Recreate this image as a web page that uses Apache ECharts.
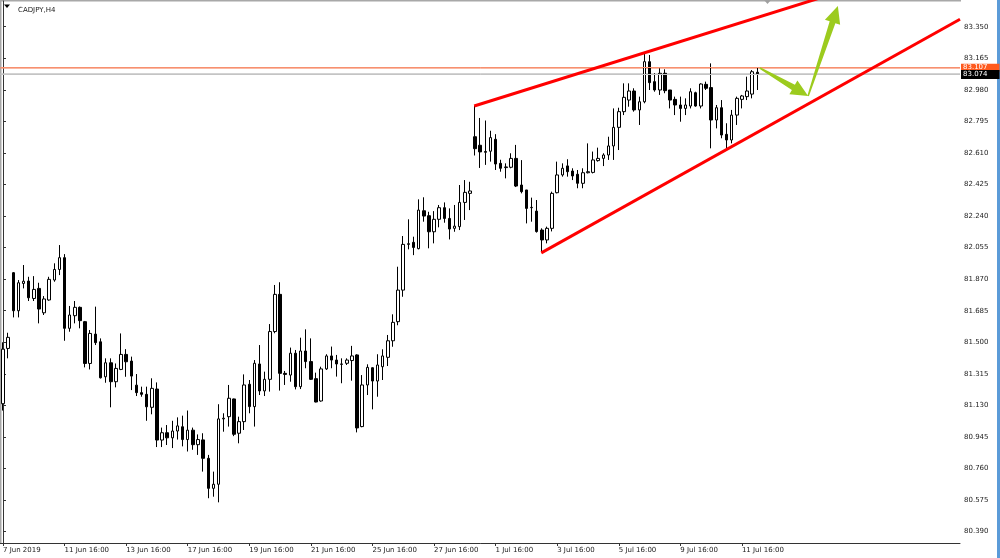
<!DOCTYPE html>
<html><head><meta charset="utf-8">
<script src="https://cdn.jsdelivr.net/npm/echarts@6/dist/echarts.min.js"></script>
<style>html,body{margin:0;padding:0;background:#fff}#c{width:1000px;height:558px}</style>
</head><body><div id="c"></div>
<script>
const symbolName = 'CADJPY,H4';
const tickLabels = ['7 Jun 2019','11 Jun 16:00','13 Jun 16:00','17 Jun 16:00','19 Jun 16:00','21 Jun 16:00','25 Jun 16:00','27 Jun 16:00','1 Jul 16:00','3 Jul 16:00','5 Jul 16:00','9 Jul 16:00','11 Jul 16:00'];
const barsPerTick = 12;
const slotCount = 187;
const yTicks = [80.390,80.575,80.760,80.945,81.130,81.315,81.500,81.685,81.870,82.055,82.240,82.425,82.610,82.795,82.980,83.165,83.350];
const opens = [
81.140,81.464,81.908,81.685,81.845,81.859,81.757,81.816,81.673,81.748,
81.865,81.927,81.996,81.582,81.656,81.705,81.621,81.376,81.548,81.503,
81.298,81.380,81.269,81.341,81.429,81.390,81.249,81.205,81.195,81.119,
81.226,80.927,80.970,80.940,80.980,81.005,80.930,80.985,80.900,80.928,
80.820,80.644,80.668,81.051,81.064,81.168,80.967,81.035,81.254,81.123,
81.373,81.215,81.283,81.563,81.781,81.318,81.308,81.436,81.240,81.449,
81.387,81.287,81.156,81.344,81.420,81.396,81.373,81.377,81.393,81.426,
81.006,81.250,81.351,81.273,81.357,81.412,81.509,81.621,81.806,82.074,
82.086,82.049,82.271,82.242,82.148,82.221,82.289,82.226,82.168,82.178,
82.320,82.373,82.705,82.655,82.618,82.620,82.690,82.549,82.524,82.526,
82.578,82.422,82.393,82.289,82.269,82.158,82.100,82.168,82.377,82.481,
82.534,82.504,82.485,82.432,82.494,82.496,82.565,82.578,82.598,82.651,
82.760,82.852,82.920,82.973,82.862,82.910,83.145,83.028,82.979,83.077,
82.979,82.924,82.891,82.871,82.885,82.963,82.885,83.012,82.993,82.803,
82.875,82.719,82.686,82.832,82.924,82.940,82.955,83.083];
const highs = [
81.500,81.556,81.912,81.865,81.953,81.884,81.888,81.849,81.771,81.884,
81.963,82.070,82.017,81.713,81.742,81.710,81.625,81.572,81.709,81.523,
81.406,81.406,81.376,81.552,81.460,81.416,81.314,81.240,81.240,81.289,
81.265,81.000,81.015,81.040,81.060,81.070,81.100,81.000,80.960,80.967,
80.840,80.742,81.137,81.084,81.250,81.170,81.064,81.312,81.279,81.396,
81.484,81.328,81.607,81.836,81.852,81.332,81.469,81.455,81.527,81.576,
81.523,81.322,81.357,81.430,81.475,81.426,81.406,81.406,81.479,81.430,
81.308,81.371,81.353,81.430,81.459,81.543,81.664,81.943,82.123,82.221,
82.119,82.338,82.350,82.265,82.269,82.305,82.320,82.285,82.305,82.422,
82.451,82.441,82.885,82.815,82.800,82.740,82.720,82.570,82.549,82.608,
82.657,82.568,82.393,82.348,82.334,82.168,82.178,82.383,82.559,82.549,
82.573,82.520,82.510,82.520,82.666,82.618,82.641,82.608,82.705,82.871,
82.875,83.018,83.018,82.989,82.940,83.194,83.184,83.077,83.106,83.100,
82.979,82.940,82.940,82.930,82.989,82.969,83.018,83.028,83.135,82.891,
82.920,82.784,82.862,82.940,82.950,83.057,83.096,83.110];
const lows = [
81.100,81.406,81.646,81.646,81.816,81.742,81.742,81.611,81.660,81.744,
81.855,81.894,81.509,81.562,81.611,81.582,81.353,81.341,81.484,81.288,
81.263,81.119,81.236,81.337,81.298,81.220,81.185,81.181,81.040,81.078,
80.886,80.886,80.898,80.880,80.930,80.890,80.860,80.870,80.840,80.742,
80.586,80.595,80.562,80.976,81.006,80.950,80.908,80.986,81.084,81.006,
81.191,81.185,81.211,81.553,81.217,81.250,81.269,81.224,81.226,81.348,
81.279,81.148,81.152,81.338,81.348,81.299,81.260,81.367,81.275,80.972,
81.002,81.191,81.107,81.181,81.279,81.361,81.474,81.600,81.767,82.045,
82.011,82.045,82.207,82.051,82.080,82.174,82.201,82.103,82.148,82.158,
82.217,82.275,82.595,82.522,82.540,82.559,82.510,82.500,82.461,82.520,
82.410,82.373,82.197,82.207,82.143,82.030,82.080,82.150,82.373,82.471,
82.471,82.451,82.403,82.403,82.490,82.490,82.559,82.533,82.569,82.569,
82.627,82.832,82.881,82.852,82.774,82.901,82.979,82.969,82.950,82.960,
82.871,82.832,82.793,82.832,82.871,82.881,82.871,82.979,82.637,82.754,
82.696,82.637,82.666,82.774,82.871,82.920,82.930,82.979];
const closes = [
81.460,81.529,81.685,81.849,81.858,81.761,81.810,81.695,81.754,81.869,
81.927,81.996,81.582,81.660,81.705,81.627,81.376,81.552,81.498,81.292,
81.380,81.269,81.347,81.429,81.386,81.302,81.205,81.195,81.122,81.230,
80.927,80.970,80.940,80.980,81.010,80.930,80.985,80.900,80.930,80.820,
80.644,80.668,81.051,81.055,81.172,80.961,81.035,81.250,81.123,81.377,
81.215,81.283,81.563,81.781,81.318,81.312,81.436,81.240,81.449,81.387,
81.283,81.150,81.344,81.420,81.396,81.373,81.371,81.396,81.420,80.998,
81.250,81.353,81.273,81.367,81.420,81.509,81.617,81.806,82.074,82.078,
82.056,82.275,82.240,82.148,82.221,82.289,82.226,82.164,82.181,82.320,
82.379,82.387,82.635,82.616,82.614,82.700,82.545,82.520,82.528,82.578,
82.416,82.383,82.285,82.291,82.149,82.100,82.168,82.373,82.481,82.520,
82.500,82.475,82.432,82.494,82.500,82.569,82.578,82.598,82.651,82.760,
82.852,82.936,82.973,82.862,82.910,83.145,83.022,82.979,83.077,82.975,
82.920,82.891,82.871,82.891,82.969,82.885,83.014,82.989,82.803,82.875,
82.715,82.686,82.832,82.930,82.944,82.973,83.086,83.074];
const askPrice = 83.107;
const bidPrice = 83.074;
// trend lines: [barIndex, price]
const upperTrend = [[91.83, 82.885], [160.0, 83.526]];
const lowerTrend = [[104.9, 82.024], [186.5, 83.394]];
// arrows: [fromBar, fromPrice, toBar, toPrice]
const arrows = [[147.5, 83.108, 156.9, 82.944], [156.9, 82.944, 162.7, 83.471]];

const FONT = '"DejaVu Sans", sans-serif';
const categories = Array.from({length: slotCount}, (_, i) =>
  (i % barsPerTick === 0 && tickLabels[i / barsPerTick]) ? tickLabels[i / barsPerTick] : 'bar' + i);
const showTick = (i) => i % barsPerTick === 0 && i / barsPerTick < tickLabels.length;
const candles = opens.map((o, i) => [o, closes[i], lows[i], highs[i]]);

function priceLine(price, lineColor, boxColor, z, lh) {
  return {
    type: 'line', xAxisIndex: 1, yAxisIndex: 0, silent: true, z: z, showSymbol: false,
    data: [[-0.5, price], [slotCount - 0.5, price]],
    lineStyle: {color: lineColor, width: 1},
    markLine: {
      silent: true, symbol: ['none', 'none'], animation: false,
      lineStyle: {color: lineColor, width: 1, type: 'solid'},
      label: {show: true, position: 'end', distance: 1, formatter: price.toFixed(3), backgroundColor: boxColor,
              color: '#fff', fontFamily: FONT, fontSize: 7, lineHeight: lh, padding: [0, 12, 0, 2]},
      data: [{yAxis: price}]
    }
  };
}

const chart = echarts.init(document.getElementById('c'), null, {renderer: 'canvas'});
chart.setOption({
  animation: false,
  backgroundColor: '#ffffff',
  title: {text: symbolName, left: 13, top: 2, textStyle: {fontFamily: FONT, fontSize: 7, fontWeight: 'normal', color: '#222'}},
  grid: {left: 0, right: 40, top: 1, bottom: 15, containLabel: false},
  xAxis: [{
    type: 'category', data: categories, boundaryGap: true, position: 'bottom',
    axisLine: {show: true, lineStyle: {color: '#333', width: 1}},
    axisTick: {show: true, alignWithLabel: true, interval: showTick, length: 3, lineStyle: {color: '#333'}},
    axisLabel: {show: true, interval: showTick, align: 'left', margin: 4, fontFamily: FONT, fontSize: 7, color: '#222'},
    splitLine: {show: false}
  }, {
    type: 'value', min: -0.5, max: slotCount - 0.5, show: false
  }],
  yAxis: [{
    type: 'value', position: 'right', min: 80.3236, max: 83.5006, scale: true,
    axisLine: {show: true, lineStyle: {color: '#333', width: 1}},
    axisTick: {show: true, length: 3, customValues: yTicks, lineStyle: {color: '#333'}},
    axisLabel: {show: true, customValues: yTicks, formatter: v => Number(v).toFixed(3), margin: 4, fontFamily: FONT, fontSize: 7, color: '#222'},
    splitLine: {show: false}
  }],
  series: [
    priceLine(askPrice, '#f7906f', '#ff5a1e', 1, 8),
    priceLine(bidPrice, '#c4c4c4', '#000000', 2, 9),
  {
    type: 'candlestick', xAxisIndex: 0, yAxisIndex: 0, data: candles, barWidth: 3, silent: true, z: 3,
    itemStyle: {color: '#ffffff', color0: '#000000', borderColor: '#000000', borderColor0: '#000000', borderColorDoji: '#000000', borderWidth: 1}
  }, {
    type: 'line', xAxisIndex: 1, yAxisIndex: 0, data: upperTrend, showSymbol: false, silent: true, z: 5,
    lineStyle: {color: '#ff0000', width: 3}
  }, {
    type: 'line', xAxisIndex: 1, yAxisIndex: 0, data: lowerTrend, showSymbol: false, silent: true, z: 5,
    lineStyle: {color: '#ff0000', width: 3}
  }, {
    type: 'custom', xAxisIndex: 1, yAxisIndex: 0, data: arrows, silent: true, z: 6, clip: false,
    encode: {x: [0, 2], y: [1, 3]},
    renderItem: (params, api) => {
      const a = api.coord([api.value(0), api.value(1)]);
      const b = api.coord([api.value(2), api.value(3)]);
      const dx = b[0] - a[0], dy = b[1] - a[1], L = Math.hypot(dx, dy);
      const ux = dx / L, uy = dy / L, nx = -uy, ny = ux;
      const headLen = 17, headHalf = 8, w0 = 0.8, w1 = 3;
      const bx = b[0] - ux * headLen, by = b[1] - uy * headLen;
      const pts = [
        [a[0] + nx * w0, a[1] + ny * w0], [bx + nx * w1, by + ny * w1], [bx + nx * headHalf, by + ny * headHalf],
        [b[0], b[1]],
        [bx - nx * headHalf, by - ny * headHalf], [bx - nx * w1, by - ny * w1], [a[0] - nx * w0, a[1] - ny * w0]
      ];
      return {type: 'polygon', shape: {points: pts}, style: {fill: '#9ccb1e'}};
    }
  }],
  graphic: [
    {type: 'rect', shape: {x: 0, y: 0, width: 961, height: 1.5}, style: {fill: '#a8a8a8'}, silent: true},
    {type: 'rect', shape: {x: 0, y: 0, width: 1.5, height: 544}, style: {fill: '#a8a8a8'}, silent: true},
    {type: 'rect', shape: {x: 997, y: 0, width: 3, height: 558}, style: {fill: '#5b9bd8'}, silent: true},
    {type: 'polygon', shape: {points: [[4, 4.5], [10, 4.5], [7, 8]]}, style: {fill: '#000'}, silent: true},
    {type: 'polygon', shape: {points: [[764, 0], [771, 0], [767.5, 4]]}, style: {fill: '#a0a0a0'}, silent: true}
  ]
});
</script>
</body></html>
